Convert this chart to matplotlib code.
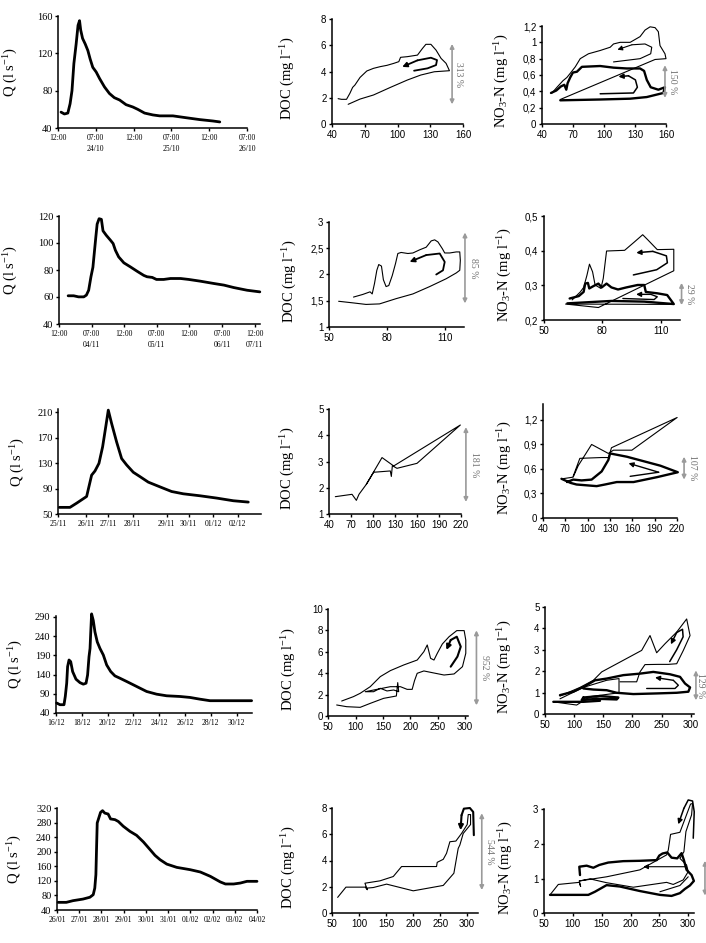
import matplotlib
matplotlib.use("Agg")
import matplotlib.pyplot as plt
from matplotlib.ticker import FuncFormatter

plt.rcParams['mathtext.fontset'] = 'custom'
plt.rcParams['mathtext.rm'] = 'Liberation Serif'
plt.rcParams['mathtext.it'] = 'Liberation Serif:italic'
plt.rcParams['mathtext.bf'] = 'Liberation Serif:bold'

SERIF = 'Liberation Serif'
SANS = 'Liberation Sans'

# ---------------- Hydrographs (time index, discharge l/s) ----------------
q1_t = [0.08,0.17,0.26,0.32,0.37,0.42,0.48,0.53,0.57,0.60,0.65,0.72,0.79,0.85,0.92,1.01,1.10,1.23,1.36,1.49,1.63,1.80,1.98,2.11,2.29,2.51,2.69,3.04,3.39,3.75,4.10,4.28]
q1_q = [57,55,56,66,80,109,130,150,155,145,136,130,123,114,105,100,93,84,77,72.5,70,65,62.5,60,56,54,53,53,51,49,47.5,46.5]
q1_ticks = ["12:00", "07:00\n24/10", "12:00", "07:00\n25/10", "12:00", "07:00\n26/10"]

q2_t = [0.28,0.45,0.60,0.76,0.84,0.91,0.98,1.04,1.08,1.13,1.17,1.23,1.30,1.35,1.45,1.58,1.66,1.73,1.83,1.99,2.19,2.40,2.60,2.70,2.86,2.99,3.21,3.42,3.73,3.98,4.34,4.75,5.06,5.36,5.77,6.16]
q2_q = [60.9,60.9,60.1,60.1,61.4,65,75,82,92,104.5,114,118,117.5,109,105.7,102,99.6,94.6,89.7,85.3,82.3,79,76,75,74.5,73,73,73.7,73.7,73,71.7,70,68.8,67,65,63.8]
q2_ticks = ["12:00", "07:00\n04/11", "12:00", "07:00\n05/11", "12:00", "07:00\n06/11", "12:00\n07/11"]

q3_t = [0.03,0.35,0.55,0.85,1.00,1.10,1.22,1.33,1.43,1.50,1.60,1.75,1.90,2.05,2.25,2.45,2.70,2.95,3.15,3.40,3.75,4.25,4.75,5.25,5.70]
q3_q = [60.4,60.4,67,77.5,111,117.5,129.5,155.5,189,213,192,163,137,127,115.5,108.7,100,94.7,90.5,85.3,81.7,78.6,75,70.8,68.7]
q3_tick_pos = [0, 0.83, 1.50, 2.23, 3.25, 3.91, 4.65, 5.39]
q3_ticks = ["25/11", "26/11", "27/11", "28/11", "29/11", "30/11", "01/12", "02/12"]

q4_t = [0.05,0.31,0.62,0.72,0.83,0.90,1.01,1.14,1.29,1.55,1.86,2.12,2.33,2.45,2.56,2.64,2.69,2.76,2.89,3.02,3.20,3.41,3.67,3.93,4.24,4.57,4.96,5.48,6.00,6.51,7.03,7.80,8.58,9.61,10.39,11.16,11.94,12.71,13.75,15.17]
q4_q = [66,61.6,61.6,83,117.6,160.7,178,173.6,147.8,128,119,115,117.6,139,186.6,208,247,298,281,251,225,208,191,165,148,136.6,130.5,122,113.3,104.7,96,89,84.8,83,80.5,76,72,72,72,72]
q4_ticks = ["16/12", "18/12", "20/12", "22/12", "24/12", "26/12", "28/12", "30/12"]

q5_t = [0.05,0.42,0.72,1.17,1.48,1.63,1.70,1.75,1.78,1.81,1.88,1.96,2.05,2.15,2.30,2.41,2.61,2.76,2.98,3.28,3.58,3.89,4.19,4.41,4.64,4.94,5.39,5.99,6.45,6.90,7.35,7.58,7.95,8.25,8.55,9.0]
q5_q = [61,61,65.6,70,75,82,100,137,210,279,292.5,308,312.7,306,303.5,290,288,283,270,256,245,226.7,205.6,190,178,166,157,150.7,144.3,132.4,117,111.4,111.4,114,118.7,118.7]
q5_ticks = ["26/01", "27/01", "28/01", "29/01", "30/01", "31/01", "01/02", "02/02", "03/02", "04/02"]

# ---------------- Hysteresis loops (Q, concentration) ----------------
# Event 1
doc1_q = [54.8,65.7,78.0,93.5,109.0,121.3,133.7,147.6,144.5,139.9,135.3,130.6,126.0,122.9,118.3,109.0,102.8,101.2,96.6,90.4,84.2,78.0,71.9,65.7,61.0,58.9,56.4,53.3,48.7,45.6]
doc1_c = [1.50,1.90,2.21,2.79,3.35,3.73,3.98,4.06,4.62,5.0,5.63,6.07,6.07,5.76,5.25,5.13,5.08,4.75,4.62,4.47,4.37,4.24,4.04,3.55,2.97,2.79,2.34,1.88,1.88,1.93]
doc1_arr_q = [115.2,127.5,135.3,136.2,130.6,118.3,104.3]
doc1_arr_c = [4.06,4.24,4.49,4.87,5.05,4.85,4.35]
no31_thin_q = [49.7,54.5,60.3,64.1,67.3,72.2,77.0,85.0,96.3,106.0,109.2,115.6,125.3,134.9,139.7,144.6,149.4,152.6,154.2,159.0,160.0,149.4,57.7]
no31_thin_c = [0.38,0.45,0.53,0.57,0.62,0.70,0.80,0.86,0.90,0.94,0.98,1.00,1.00,1.07,1.15,1.19,1.18,1.13,0.96,0.86,0.80,0.79,0.30]
no31_tarr_q = [109.2,134.9,145.2,146.2,139.7,127.0,113.0]
no31_tarr_c = [0.76,0.80,0.86,0.94,0.98,0.97,0.91]
no31_thick_q = [48.7,53.8,58.3,61.6,63.5,64.8,67.3,69.9,73.8,78.6,96.3,109.2,122.0,134.9,138.8,141.4,145.2,152.6,159.0,157.4,141.4,125.3,96.3,57.7]
no31_thick_c = [0.38,0.41,0.46,0.48,0.42,0.50,0.57,0.63,0.64,0.70,0.71,0.69,0.68,0.68,0.65,0.54,0.45,0.42,0.45,0.38,0.33,0.31,0.30,0.29]
no31_karr_q = [96.3,128.5,132.3,130.4,123.7,114.0]
no31_karr_c = [0.37,0.38,0.45,0.54,0.59,0.58]

# Event 2
doc2_q = [55.0,62.3,69.2,76.2,84.8,93.5,102.2,110.8,116.0,117.8,118.1,117.8,116.0,112.6,110.0,108.8,106.5,104.8,103.0,100.4,97.0,93.5,90.9,87.4,85.7,84.5,82.8,81.0,79.6,78.2,77.2,75.8,74.8,73.6,72.4,71.3,67.5,62.7]
doc2_c = [1.49,1.46,1.43,1.44,1.54,1.63,1.77,1.92,2.03,2.08,2.27,2.43,2.43,2.41,2.41,2.49,2.62,2.66,2.64,2.52,2.47,2.41,2.40,2.42,2.40,2.21,1.98,1.79,1.77,1.90,2.16,2.19,2.08,1.83,1.63,1.67,1.62,1.57]
doc2_arr_q = [105.6,109.1,110.0,107.4,100.4,91.8]
doc2_arr_c = [2.0,2.08,2.24,2.40,2.37,2.24]
no32_thin_q = [64.5,68.7,70.4,72.1,73.4,75.0,76.3,79.3,80.5,82.2,91.5,96.5,100.8,103.3,108.3,116.8,116.8,78.0,61.1,116.8]
no32_thin_c = [0.258,0.281,0.294,0.329,0.361,0.339,0.301,0.291,0.320,0.399,0.401,0.425,0.446,0.432,0.403,0.404,0.342,0.236,0.246,0.245]
no32_thin_arr_q = [96.0, 108.0, 113.5, 113.0, 106.0, 97.5]
no32_thin_arr_c = [0.330, 0.345, 0.365, 0.385, 0.398, 0.394]
no32_thick_q = [63.2,67.9,70.4,71.2,72.6,73.3,75.5,78.0,79.7,82.2,84.7,88.1,92.4,98.2,101.6,102.4,108.3,113.4,116.8,101.6,84.7,62.0]
no32_thick_c = [0.262,0.269,0.281,0.305,0.307,0.291,0.298,0.305,0.294,0.305,0.294,0.288,0.294,0.301,0.301,0.281,0.277,0.272,0.246,0.253,0.255,0.248]
no32_karr_q = [90.6,106.7,108.3,105.0,97.4]
no32_karr_c = [0.262,0.259,0.267,0.274,0.274]

# Event 3
doc3_q = [48.6,71.4,77.3,80.9,90.9,100.9,123.6,125.0,126.4,132.7,160.0,219.1,128.2,112.3,90.9]
doc3_c = [1.66,1.75,1.52,1.75,2.13,2.59,2.64,2.43,2.84,2.74,2.93,4.39,2.83,3.15,2.13]
no33_thin_q = [66.1,80.5,87.3,105.3,127.8,134.6,159.4,220.2,132.0,128.0,118.8,89.5,80.5]
no33_thin_c = [0.48,0.50,0.64,0.90,0.79,0.83,0.83,1.23,0.86,0.74,0.74,0.73,0.51]
no33_thick_q = [64.8,76.9,85.0,112.1,123.3,139.1,161.6,193.2,221.1,197.7,152.6,130.1,127.8,118.8,105.3,91.8,80.5,72.4]
no33_thick_c = [0.48,0.43,0.41,0.39,0.41,0.44,0.44,0.50,0.56,0.64,0.75,0.79,0.71,0.57,0.47,0.46,0.47,0.44]
no33_karr_q = [157.1,195.4,154.9]
no33_karr_c = [0.51,0.56,0.67]

# Event 4
doc4_q = [65.3,83.7,108.3,126.7,151.2,174.5,177.0,178.8,169.6,157.4,145.1,132.8,117.5,139.0,163.5,181.9,194.2,203.4,207.7,212.6,224.8,240.2,261.7,280.1,295.4,301.5,301.5,298.5,285.0,270.9,258.6,249.4,243.3,237.1,231.0,224.8,212.6,188.0,163.5,145.1,126.7,108.3,96.0,74.5]
doc4_c = [1.03,0.87,0.81,1.18,1.65,1.87,3.12,2.27,2.43,2.34,2.59,2.27,2.27,2.49,2.74,2.74,2.49,2.49,3.30,3.99,4.21,4.05,3.83,3.93,4.61,5.86,7.10,7.98,7.98,7.41,6.73,5.86,5.23,5.39,6.64,6.01,5.23,4.77,4.24,3.68,2.74,2.12,1.81,1.40]
doc4_arr_q = [273.9,286.2,292.3,285.0,273.9,266.0]
doc4_arr_c = [4.61,5.55,6.48,7.41,7.10,6.17]
no34_thin_q = [75.7,110.1,133.0,147.3,184.4,215.9,230.2,241.6,256.0,276.0,293.1,298.9,287.4,276.0,261.7,244.5,221.6,213.0,207.3,178.7]
no34_thin_c = [0.85,1.25,1.58,1.97,2.51,2.97,3.66,2.86,3.28,3.82,4.43,3.66,2.97,2.35,2.32,2.32,2.31,1.97,1.51,1.51]
no34_thin2_q = [75.7,115.8,155.8,177.0,177.0,127.2,104.3,64.3]
no34_thin2_c = [0.72,1.25,1.58,1.66,1.00,0.82,0.43,0.58]
no34_tarr_q = [264.0,276.0,287.0,286.0,276.0,266.0]
no34_tarr_c = [2.45,3.00,3.60,3.95,3.80,3.25]
no34_thick_q = [75.7,98.6,118.6,135.8,155.8,184.4,213.0,235.9,264.5,281.7,290.3,298.9,296.0,276.0,241.6,201.6,173.0,155.8,133.0,115.8]
no34_thick_c = [0.89,1.05,1.31,1.58,1.66,1.82,1.89,1.97,1.86,1.74,1.43,1.25,1.05,1.00,0.97,0.94,1.00,1.12,1.15,1.20]
no34_thick2_q = [115.8,144.4,175.9,173.0,138.7,112.9,115.8]
no34_thick2_c = [0.78,0.85,0.78,0.69,0.72,0.66,0.78]
no34_thick3_q = [64.3,115.8,144.4]
no34_thick3_c = [0.58,0.58,0.63]
no34_karr_q = [224.5,273.1,278.8,270.2,238.8]
no34_karr_c = [1.20,1.20,1.35,1.58,1.71]

# Event 5
doc5_q = [59.9,75.3,112.3,114.8,110.5,138.3,163.0,178.4,243.2,244.4,255.6,261.7,267.9,279.0,289.5,300.0,301.9,306.2,306.2,292.6,286.4,283.3,275.3,255.6,200.0,150.6,125.9,112.3]
doc5_c = [1.19,1.97,1.97,1.77,2.27,2.45,2.78,3.54,3.54,3.86,4.09,4.55,5.43,5.48,6.06,6.74,7.50,7.50,6.74,6.06,5.18,4.92,3.03,2.10,1.69,2.20,1.94,1.89]
doc5_arr_q = [312.3,311.1,304.9,293.8,289.5,287.7]
doc5_arr_c = [5.93,7.70,8.0,7.95,7.45,6.31]
no35_thin_q = [60.4,74.8,111.2,113.5,111.2,158.5,216.3,262.5,265.4,269.4,285.6,304.0,307.5,305.8,296.0,292.5,285.6,297.1,300.0,291.3,274.0,262.5,204.7,158.5,129.7,111.2]
no35_thin_c = [0.53,0.83,0.89,0.77,0.93,1.05,1.25,1.68,1.82,2.27,2.33,3.14,3.16,2.83,2.35,1.77,1.58,1.39,1.20,0.96,0.83,0.89,0.75,0.88,0.99,0.93]
no35_thin2_q = [250.9,285.6,300.0]
no35_thin2_c = [0.62,0.80,1.05]
no35_tarr_q = [297.1,222.1]
no35_tarr_c = [1.34,1.34]
no35_thick_q = [112.4,111.2,123.9,135.5,145.8,161.4,187.4,216.3,245.2,249.8,255.5,263.6,271.1,280.9,288.5,292.5,297.1,305.8,309.8,302.9,294.2,285.6,271.1,250.9,216.3,181.6,158.5,138.3,126.8,60.4]
no35_thick_c = [1.10,1.34,1.37,1.31,1.39,1.46,1.50,1.51,1.53,1.66,1.72,1.75,1.60,1.58,1.73,1.53,1.25,1.10,0.93,0.80,0.70,0.58,0.50,0.53,0.64,0.77,0.81,0.62,0.53,0.53]
no35_karr_q = [308.7,310.4,307.5,300.0,292.5,282.7]
no35_karr_c = [2.16,2.92,3.23,3.26,3.02,2.56]

# concentration change ranges (low, high) and labels
doc_ranges = [(1.5, 6.1), (1.45, 2.8), (1.46, 4.31), (1.0, 8.0), (1.75, 7.6)]
doc_labels = ["313 %", "85 %", "181 %", "952 %", "544 %"]
no3_ranges = [(0.32, 0.72), (0.243, 0.307), (0.47, 0.75), (0.65, 2.04), (0.51, 1.51)]
no3_labels = ["150 %", "29 %", "107 %", "129 %", ""]

# ---------------- Figure ----------------
W, H = 706, 943
fig = plt.figure(figsize=(W / 100, H / 100), dpi=100)


def add_ax(x0, x1, y0, y1):
    return fig.add_axes([x0 / W, 1 - y1 / H, (x1 - x0) / W, (y1 - y0) / H])


def comma(v, pos):
    s = f"{v:g}"
    return s.replace('.', ',')


def style(ax, serif_ticks, xfs, yfs):
    for s in ['top', 'right']:
        ax.spines[s].set_visible(False)
    for s in ['left', 'bottom']:
        ax.spines[s].set_linewidth(1.1)
        ax.spines[s].set_color('black')
    ax.tick_params(direction='out', length=2.5, width=1.0, pad=1.5, colors='black')
    fam = SERIF if serif_ticks else SANS
    for lab in ax.get_xticklabels():
        lab.set_family(fam); lab.set_fontsize(xfs)
    for lab in ax.get_yticklabels():
        lab.set_family(fam); lab.set_fontsize(yfs)


def set_ylabel(ax, text, label_px, box, yfrac):
    # label_px is the visual centre of the rotated label; the anchor is its right edge
    ax.set_ylabel(text, family=SERIF, fontsize=10.5)
    x0, x1 = box
    ax.yaxis.set_label_coords((label_px + 8 - x0) / (x1 - x0), yfrac)


def hydro(box, t, q, xlim, ylim, yticks, xpos, xlabels, label_px):
    x0, x1, y0, y1 = box
    ax = add_ax(x0, x1, y0, y1)
    ax.plot(t, q, color='black', lw=2.0, solid_joinstyle='round', solid_capstyle='round')
    ax.set_xlim(*xlim); ax.set_ylim(*ylim)
    ax.set_yticks(yticks)
    ax.set_xticks(xpos)
    ax.set_xticklabels(xlabels, linespacing=1.6)
    style(ax, True, 5.5, 7.5)
    set_ylabel(ax, r"Q (l s$^{\mathrm{-1}}$)", label_px, (x0, x1), 0.5)
    return ax


def loop(ax, q, c, lw):
    ax.plot(q, c, color='black', lw=lw, solid_joinstyle='round', solid_capstyle='round')


def arrow(ax, q, c, lw):
    ax.plot(q[:-1], c[:-1], color='black', lw=lw, solid_joinstyle='round', solid_capstyle='round')
    ax.annotate('', xy=(q[-1], c[-1]), xytext=(q[-2], c[-2]),
                arrowprops=dict(arrowstyle='-|>', color='black', lw=lw,
                                mutation_scale=7, shrinkA=0, shrinkB=0))


def chem(box, xlim, ylim, xticks, yticks, ylabel, label_px):
    x0, x1, y0, y1 = box
    ax = add_ax(x0, x1, y0, y1)
    ax.set_xlim(*xlim); ax.set_ylim(*ylim)
    ax.set_xticks(xticks); ax.set_yticks(yticks)
    ax.yaxis.set_major_formatter(FuncFormatter(comma))
    style(ax, False, 7, 7)
    set_ylabel(ax, ylabel, label_px, (x0, x1), 0.44)
    return ax


def range_arrow(ax, x, lo, hi, label, xt):
    ax.annotate('', xy=(x, lo), xytext=(x, hi), annotation_clip=False,
                arrowprops=dict(arrowstyle='<|-|>', color='#9a9a9a', lw=1.2,
                                mutation_scale=6, shrinkA=0, shrinkB=0))
    if label:
        ax.text(xt, (lo + hi) / 2, label, rotation=270, ha='center', va='center',
                fontsize=7, color='#707070', family=SERIF, clip_on=False)


DOC_LABEL = r"DOC (mg l$^{\mathrm{-1}}$)"
NO3_LABEL = r"NO$_{\mathrm{3}}$-N (mg l$^{\mathrm{-1}}$)"
THIN, THICK = 0.8, 1.7

# ---- Row 1 ----
hydro((58, 247, 16, 128), q1_t, q1_q, (0, 5), (40, 160), [40, 80, 120, 160],
      list(range(6)), q1_ticks, 12)
ax = chem((332, 463, 19, 124), (40, 160), (0, 8), [40, 70, 100, 130, 160], [0, 2, 4, 6, 8], DOC_LABEL, 289)
loop(ax, doc1_q, doc1_c, THIN)
arrow(ax, doc1_arr_q, doc1_arr_c, 1.3)
range_arrow(ax, 150, *doc_ranges[0], doc_labels[0], 156)
ax = chem((542, 666, 26, 124), (40, 160), (0, 1.2), [40, 70, 100, 130, 160],
          [0, 0.2, 0.4, 0.6, 0.8, 1.0, 1.2], NO3_LABEL, 503)
loop(ax, no31_thin_q, no31_thin_c, THIN)
arrow(ax, no31_tarr_q, no31_tarr_c, THIN)
loop(ax, no31_thick_q, no31_thick_c, THICK)
arrow(ax, no31_karr_q, no31_karr_c, 1.1)
range_arrow(ax, 159, *no3_ranges[0], no3_labels[0], 166)

# ---- Row 2 ----
hydro((59, 259.5, 216, 324), q2_t, q2_q, (0, 6.15), (40, 120), [40, 60, 80, 100, 120],
      list(range(7)), q2_ticks, 12)
ax = chem((329, 464, 222, 327), (50, 120), (1, 3), [50, 80, 110], [1, 1.5, 2, 2.5, 3], DOC_LABEL, 291)
loop(ax, doc2_q, doc2_c, THIN)
arrow(ax, doc2_arr_q, doc2_arr_c, 1.3)
range_arrow(ax, 120.5, *doc_ranges[1], doc_labels[1], 124.7)
ax = chem((544, 680, 216, 320), (50, 120), (0.2, 0.5), [50, 80, 110], [0.2, 0.3, 0.4, 0.5], NO3_LABEL, 506)
loop(ax, no32_thin_q, no32_thin_c, THIN)
arrow(ax, no32_thin_arr_q, no32_thin_arr_c, 1.1)
loop(ax, no32_thick_q, no32_thick_c, THICK)
arrow(ax, no32_karr_q, no32_karr_c, 1.0)
range_arrow(ax, 120.8, *no3_ranges[1], no3_labels[1], 124.9)

# ---- Row 3 ----
hydro((58.3, 260.6, 409.5, 514), q3_t, q3_q, (0, 6.07), (50, 214), [50, 90, 130, 170, 210],
      q3_tick_pos, q3_ticks, 19)
ax = chem((329, 461, 409, 514), (40, 220), (1, 5), [40, 70, 100, 130, 160, 190, 220], [1, 2, 3, 4, 5], DOC_LABEL, 289)
loop(ax, doc3_q, doc3_c, THIN)
range_arrow(ax, 226.7, *doc_ranges[2], doc_labels[2], 238.8)
ax = chem((543, 677, 403.6, 518), (40, 220), (0, 1.4), [40, 70, 100, 130, 160, 190, 220],
          [0, 0.3, 0.6, 0.9, 1.2], NO3_LABEL, 506)
loop(ax, no33_thin_q, no33_thin_c, THIN)
loop(ax, no33_thick_q, no33_thick_c, THICK)
arrow(ax, no33_karr_q, no33_karr_c, 1.0)
range_arrow(ax, 229.5, *no3_ranges[2], no3_labels[2], 240.5)

# ---- Row 4 ----
hydro((56, 252, 615.8, 713), q4_t, q4_q, (0, 15.2), (40, 293), [40, 90, 140, 190, 240, 290],
      list(range(0, 15, 2)), q4_ticks, 17)
ax = chem((328.3, 467.7, 609, 716), (50, 305), (0, 10), [50, 100, 150, 200, 250, 300], [0, 2, 4, 6, 8, 10], DOC_LABEL, 290)
loop(ax, doc4_q, doc4_c, THIN)
arrow(ax, doc4_arr_q, doc4_arr_c, 1.5)
range_arrow(ax, 321, *doc_ranges[3], doc_labels[3], 335.7)
ax = chem((545, 693.6, 606.7, 714.3), (50, 305), (0, 5), [50, 100, 150, 200, 250, 300], [0, 1, 2, 3, 4, 5], NO3_LABEL, 506)
loop(ax, no34_thin_q, no34_thin_c, THIN)
loop(ax, no34_thin2_q, no34_thin2_c, THIN)
arrow(ax, no34_tarr_q, no34_tarr_c, 1.1)
loop(ax, no34_thick_q, no34_thick_c, THICK)
loop(ax, no34_thick2_q, no34_thick2_c, THICK)
loop(ax, no34_thick3_q, no34_thick3_c, THICK)
arrow(ax, no34_karr_q, no34_karr_c, 1.0)
range_arrow(ax, 309, *no3_ranges[3], no3_labels[3], 317.5)

# ---- Row 5 ----
hydro((57, 257, 808, 910), q5_t, q5_q, (0, 9), (40, 320), [40, 80, 120, 160, 200, 240, 280, 320],
      list(range(10)), q5_ticks, 16)
ax = chem((332.3, 478, 808, 913), (50, 320), (0, 8), [50, 100, 150, 200, 250, 300], [0, 2, 4, 6, 8], DOC_LABEL, 290)
loop(ax, doc5_q, doc5_c, THIN)
arrow(ax, doc5_arr_q, doc5_arr_c, 1.5)
range_arrow(ax, 327, *doc_ranges[4], doc_labels[4], 342)
ax = chem((544, 694, 809, 913.3), (50, 310), (0, 3), [50, 100, 150, 200, 250, 300], [0, 1, 2, 3], NO3_LABEL, 507)
loop(ax, no35_thin_q, no35_thin_c, THIN)
loop(ax, no35_thin2_q, no35_thin2_c, THIN)
arrow(ax, no35_tarr_q, no35_tarr_c, THIN)
loop(ax, no35_thick_q, no35_thick_c, THICK)
arrow(ax, no35_karr_q, no35_karr_c, 1.1)
range_arrow(ax, 329, *no3_ranges[4], no3_labels[4], 340)

for a in fig.axes:
    for line in a.get_lines():
        line.set_clip_on(False)

fig.savefig("out.png", dpi=100)
